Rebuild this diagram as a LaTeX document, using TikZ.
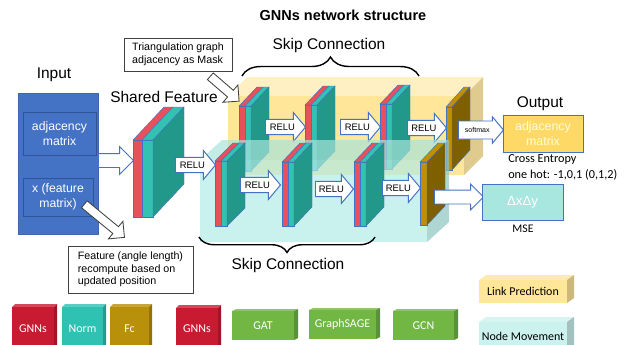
\documentclass[tikz,border=0pt]{standalone}
\usepackage{fontspec}
\setmainfont{Liberation Sans}
\newfontfamily\calibri{Carlito}
\usetikzlibrary{shapes.arrows, decorations.pathreplacing}

\definecolor{inputblue}{HTML}{4472C4}
\definecolor{innerblue}{HTML}{2F5597}
\definecolor{slabred}{HTML}{E8505B}
\definecolor{slabteal}{HTML}{33C1B1}
\definecolor{slabdark}{HTML}{22988A}
\definecolor{slabgold}{HTML}{BF9000}
\definecolor{slabbrown}{HTML}{7F6000}
\definecolor{linktop}{HTML}{FFF0C4}
\definecolor{linkfront}{HTML}{FFE699}
\definecolor{linkside}{HTML}{E0CB8E}
\definecolor{movetop}{HTML}{A8E4DA}
\definecolor{movefront}{HTML}{B2EBE5}
\definecolor{moveside}{HTML}{8CC6C0}
\definecolor{movelegend}{HTML}{CCF2EF}
\definecolor{outyellow}{HTML}{FFD966}
\definecolor{outcyan}{HTML}{A8E6E0}
\definecolor{legred}{HTML}{C81B32}
\definecolor{legteal}{HTML}{2FC2B3}
\definecolor{leggold}{HTML}{B8900A}
\definecolor{leggreen}{HTML}{72B644}
\definecolor{notegray}{HTML}{404040}

\tikzset{
  slabline/.style={draw=inputblue, line width=0.3pt},
  lbl/.style={font=\fontsize{11}{13}\selectfont},
  relu/.style={single arrow, draw=inputblue, fill=white, line width=0.7pt,
    font=\fontsize{6.7}{7}\selectfont, inner xsep=1pt, inner ysep=2.6pt,
    text height=4.8pt, text depth=0pt, single arrow head extend=0.175cm,
    single arrow tip angle=100, anchor=tail},
  hollow/.style={single arrow, draw=inputblue, fill=white, line width=0.7pt,
    inner xsep=0pt, text height=0pt, text depth=0pt, anchor=tail},
  pointer/.style={single arrow, draw=notegray, fill=white, line width=0.6pt,
    inner xsep=0pt, inner ysep=0.1cm, text height=0pt, text depth=0pt,
    single arrow head extend=0.175cm, anchor=tail},
  notebox/.style={draw=notegray, fill=white, line width=0.6pt, align=left,
    font=\fontsize{7.6}{9}\selectfont, inner xsep=0.175cm},
  legtext/.style={text=white, font=\calibri\fontsize{8.5}{10}\selectfont}
}

% 3d slab: name, x, y, red width, teal width, height, depth x, rise
\newcommand{\gnnslab}[8]{%
  \begin{scope}[shift={(#2,#3)}]
    \filldraw[slabline, fill=slabred] (0,0) rectangle (#4,#6);
    \filldraw[slabline, fill=slabteal] (#4,0) rectangle (#4+#5,#6);
    \filldraw[slabline, fill=slabred] (0,0) -- (#7,-#8) -- (#4+#7,-#8) -- (#4,0) -- cycle;
    \filldraw[slabline, fill=slabteal] (#4,0) -- (#4+#7,-#8) -- (#4+#5+#7,-#8) -- (#4+#5,0) -- cycle;
    \filldraw[slabline, fill=slabdark] (#4+#5,0) -- (#4+#5+#7,-#8) -- (#4+#5+#7,#6-#8) -- (#4+#5,#6) -- cycle;
    \coordinate (#1) at ({(#4+#5)/2},{#6/2});
  \end{scope}}

% fc slab: name, x, y, width, height, depth x, rise
\newcommand{\fcslab}[7]{%
  \begin{scope}[shift={(#2,#3)}]
    \filldraw[slabline, fill=slabgold] (0,0) rectangle (#4,#5);
    \filldraw[slabline, fill=slabgold] (0,0) -- (#6,-#7) -- (#4+#6,-#7) -- (#4,0) -- cycle;
    \filldraw[slabline, fill=slabbrown] (#4,0) -- (#4+#6,-#7) -- (#4+#6,#5-#7) -- (#4,#5) -- cycle;
    \coordinate (#1) at ({#4/2},{#5/2});
  \end{scope}}

% task plane: x1, y1, x2, y2, depth x, rise, top, front, side
\newcommand{\planebox}[9]{%
  \fill[#7] (#1,#2) -- (#1+#5,#2-#6) -- (#3+#5,#2-#6) -- (#3,#2) -- cycle;
  \fill[#8] (#1,#2) rectangle (#3,#4);
  \fill[#9] (#3,#2) -- (#3+#5,#2-#6) -- (#3+#5,#4-#6) -- (#3,#4) -- cycle;}

% legend cube: name, colour, x1, y1, x2, y2, depth x, rise, text
\newcommand{\legcube}[9]{%
  \fill[#2!80!white] (#3,#4) -- (#3+#7,#4-#8) -- (#5+#7,#4-#8) -- (#5,#4) -- cycle;
  \fill[#2!80!black] (#5,#4) -- (#5+#7,#4-#8) -- (#5+#7,#6-#8) -- (#5,#6) -- cycle;
  \fill[#2] (#3,#4) rectangle (#5,#6);
  \node[legtext] (#1) at ({(#3+#5)/2},{min(#4/2+#6/2,336)}) {#9};}

\begin{document}
\begin{tikzpicture}[x=0.025cm, y=-0.025cm]
  \useasboundingbox (0,0) rectangle (640,344);
  \clip (0,0) rectangle (640,344);

  % titles
  \node[font=\fontsize{10.3}{12}\selectfont\bfseries] (title) at (343,15) {GNNs network structure};
  \node[lbl] (skiptop) at (329,45) {Skip Connection};
  \node[lbl] (skipbot) at (288,265) {Skip Connection};
  \node[lbl] (inlabel) at (54,75) {Input};
  \node[lbl] (shlabel) at (164,97) {Shared Feature};
  \node[lbl] (outlabel) at (540,104) {Output};

  % link prediction branch
  \planebox{228}{96}{464}{175}{19}{19}{linktop}{linkfront}{linkside}
  \gnnslab{a1}{239}{106}{6}{6}{65}{18}{19}
  \gnnslab{a2}{305}{105}{6}{6}{65}{18}{19}
  \gnnslab{a3}{380}{104}{6}{6}{65}{18}{19}
  \fcslab{ga}{446}{107}{6}{63}{18}{20}
  \node[relu, minimum height=1cm] (r1) at (265,127) {RELU};
  \node[relu, minimum height=1cm] (r2) at (340,127) {RELU};
  \node[relu, minimum height=0.975cm] (r3) at (407,128) {RELU};
  \node[relu, font=\fontsize{5}{6}\selectfont, text height=3.5pt, inner ysep=4.3pt,
        single arrow head extend=0.11cm, minimum height=1.125cm] (smax) at (458,130) {softmax};

  % node movement branch
  \begin{scope}[fill opacity=0.7]
    \planebox{200}{160}{427}{242}{22}{20}{movetop}{movefront}{moveside}
  \end{scope}
  \gnnslab{b1}{215}{161}{6}{6}{65}{18}{18}
  \gnnslab{b2}{282}{162}{6}{6}{64}{18}{19}
  \gnnslab{b3}{354}{162}{6}{6}{64}{18}{19}
  \fcslab{gb}{420}{162}{7}{63}{18}{19}
  \node[relu, minimum height=1cm] (s1) at (240,185) {RELU};
  \node[relu, minimum height=0.95cm] (s2) at (315,189) {RELU};
  \node[relu, minimum height=0.95cm] (s3) at (382,188) {RELU};
  \node[hollow, inner ysep=0.1625cm, single arrow head extend=0.15cm,
        minimum height=1.225cm] (sout) at (434,197) {};

  % shared feature
  \gnnslab{sh}{133}{140}{9}{11}{77}{31}{33}
  \node[relu, minimum height=1cm] (s0) at (175,165) {RELU};

  % input
  \node[fill=inputblue, draw=inputblue!90!black, minimum width=2cm,
        minimum height=3.525cm] (inp) at (58,163.5) {};
  \node[draw=innerblue, fill=inputblue, text=white, align=center,
        font=\fontsize{8.7}{10.5}\selectfont, minimum width=1.825cm,
        minimum height=1.075cm] (adjm) at (59.5,133.5) {adjacency\\matrix};
  \node[draw=innerblue, fill=inputblue, text=white, align=center,
        font=\fontsize{8.7}{10.5}\selectfont, minimum width=1.75cm,
        minimum height=0.95cm] (featm) at (58,197) {x (feature\\matrix)};
  \node[hollow, inner ysep=0.1625cm, single arrow head extend=0.17cm,
        minimum height=0.875cm] (inar) at (98,160.5) {};

  % outputs
  \node[fill=outyellow, draw=inputblue, text=yellow!15, align=center,
        font=\fontsize{8.8}{10.5}\selectfont, minimum width=2cm,
        minimum height=0.925cm] (outadj) at (543,133.5) {adjacency\\matrix};
  \node[fill=outcyan, draw=inputblue, text=white,
        font=\fontsize{9.4}{11}\selectfont, minimum width=2.025cm,
        minimum height=0.9cm] (outdelta) at (522.5,202) {ΔxΔy};
  \node[anchor=west, font=\calibri\fontsize{8.7}{10}\selectfont, inner sep=0pt] (ce) at (508,160) {Cross Entropy};
  \node[anchor=west, font=\calibri\fontsize{8.7}{10}\selectfont, inner sep=0pt] (onehot) at (508,175) {one hot: -1,0,1 (0,1,2)};
  \node[font=\calibri\fontsize{8.3}{10}\selectfont] (mse) at (523,229) {MSE};

  % notes
  \node[notebox, minimum width=2.7cm, minimum height=0.825cm] (tri) at (178,54.5)
    {Triangulation graph\\adjacency as Mask};
  \node[pointer, rotate=-40.8, minimum height=0.95cm] (tripoint) at (210,76) {};
  \node[notebox, minimum width=3.125cm, minimum height=1.175cm] (feat) at (130.5,269.5)
    {Feature (angle length)\\recompute based on\\updated position};
  \node[pointer, rotate=-39.5, minimum height=1.3cm] (featpoint) at (84,204) {};

  % skip braces
  \draw[line width=1pt, decorate, decoration={brace, amplitude=13.5pt}] (242,76) -- (419,76);
  \draw[line width=1pt, decorate, decoration={brace, amplitude=11pt}] (375,237) -- (199,237);

  % legend
  \legcube{lgnn}{legred}{12}{307}{54}{350}{3}{3}{GNNs}
  \legcube{lnorm}{legteal}{62}{307}{103}{350}{3}{3}{Norm}
  \legcube{lfc}{leggold}{110}{307}{149}{350}{3}{3}{Fc}
  \legcube{lgnnb}{legred}{176}{308}{218}{350}{3}{3}{GNNs}
  \legcube{lgat}{leggreen}{232}{311}{294}{340}{4}{2}{GAT}
  \legcube{lsage}{leggreen}{309}{310}{376}{339}{4}{2}{GraphSAGE}
  \legcube{lgcn}{leggreen}{393}{311}{454}{340}{4}{2}{GCN}
  \legcube{llink}{linkfront}{479}{280}{567}{303}{7}{5}{\textcolor{black}{Link Prediction}}
  \legcube{lmove}{movelegend}{479}{322}{567}{350}{7}{5}{\textcolor{black}{Node Movement}}
\end{tikzpicture}
\end{document}
